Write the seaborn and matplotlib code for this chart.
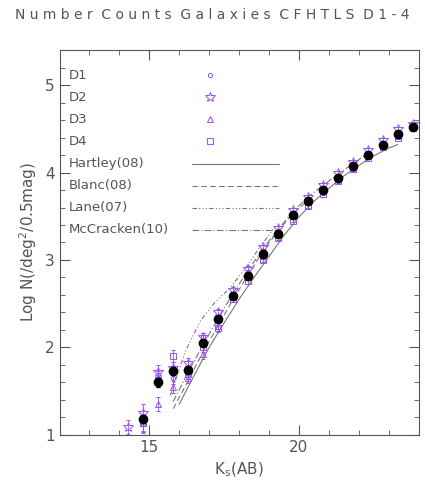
import numpy as np
import matplotlib
matplotlib.use("Agg")
import matplotlib.pyplot as plt
import seaborn as sns

sns.set_style("ticks")
plt.rcParams['font.family'] = ['DejaVu Sans']

mag = np.arange(14.8, 23.81, 0.5)
mean = [1.18, 1.60, 1.73, 1.74, 2.05, 2.32, 2.59, 2.82, 3.07, 3.30, 3.51, 3.67,
        3.80, 3.94, 4.07, 4.20, 4.31, 4.44, 4.52]
mean_err = [0.04, 0.05, 0.05, 0.04, 0.04, 0.03, 0.03, 0.02, 0.02, 0.02, 0.02, 0.02,
            0.02, 0.02, 0.02, 0.02, 0.02, 0.02, 0.02]
d1 = [1.12, 1.65, 1.65, 1.78, 2.12, 2.30, 2.60, 2.85, 3.10, 3.32, 3.52, 3.68,
      3.81, 3.95, 4.08, 4.21, 4.33, 4.45, 4.53]
d2 = [1.25, 1.72, 1.76, 1.82, 2.12, 2.40, 2.66, 2.90, 3.15, 3.37, 3.57, 3.72,
      3.86, 4.00, 4.12, 4.26, 4.37, 4.50, 4.55]
d3 = [1.14, 1.35, 1.55, 1.65, 1.92, 2.25, 2.58, 2.80, 3.05, 3.28, 3.50, 3.66,
      3.79, 3.93, 4.05, 4.19, 4.31, 4.42, 4.53]
d4 = [1.13, 1.63, 1.90, 1.70, 2.00, 2.22, 2.55, 2.76, 3.00, 3.25, 3.45, 3.62,
      3.76, 3.90, 4.04, 4.17, 4.29, 4.40, 4.51]
d_err = [0.10, 0.08, 0.07, 0.06, 0.05, 0.04, 0.03, 0.03, 0.02, 0.02, 0.02, 0.02,
         0.02, 0.02, 0.02, 0.02, 0.02, 0.02, 0.02]
star_extra_x, star_extra_y = [14.3], [1.09]

hart_x = [16.0, 16.5, 17.0, 17.5, 18.0, 18.5, 19.0, 19.5, 20.0, 20.5, 21.0, 21.5, 22.0, 22.5, 23.0, 23.3]
hart_y = [1.35, 1.68, 2.00, 2.28, 2.55, 2.80, 3.04, 3.28, 3.49, 3.67, 3.82, 3.96, 4.08, 4.19, 4.28, 4.32]
blanc_x = [15.8, 16.3, 16.8, 17.3, 17.8, 18.3, 18.8, 19.3, 19.8, 20.3]
blanc_y = [1.30, 1.62, 1.95, 2.25, 2.55, 2.83, 3.10, 3.33, 3.53, 3.68]
lane_x = [15.7, 16.2, 16.7, 17.2, 17.7, 18.2, 18.7, 19.2]
lane_y = [1.45, 1.95, 2.30, 2.52, 2.68, 2.90, 3.15, 3.38]
mcc_x = [15.8, 16.3, 16.8, 17.3, 17.8, 18.3, 18.8, 19.3, 19.8, 20.3, 20.8, 21.3, 21.8, 22.3]
mcc_y = [1.38, 1.72, 2.03, 2.33, 2.62, 2.88, 3.13, 3.35, 3.55, 3.72, 3.85, 3.98, 4.10, 4.22]

purple = "#9b4dff"
grey = "#555555"
lgrey = "#777777"

fig, ax = plt.subplots(figsize=(4.25, 5.01), dpi=100)
fig.subplots_adjust(left=0.14, right=0.985, top=0.90, bottom=0.132)

kw = dict(color=purple, mfc="none", ls="none", elinewidth=0.6, capsize=1.5, mew=0.7)
ax.errorbar(mag, d1, yerr=d_err, marker="o", ms=3, **kw)
ax.errorbar(list(mag) + star_extra_x, d2 + star_extra_y, yerr=d_err + [0.08], marker="*", ms=7, **kw)
ax.errorbar(mag, d3, yerr=d_err, marker="^", ms=5, **kw)
ax.errorbar(mag, d4, yerr=d_err, marker="s", ms=5, **kw)

styles = ["-", (0, (5, 3)), (0, (4, 2, 1, 2, 1, 2, 1, 2)), (0, (6, 2, 1, 2))]
sns.lineplot(x=hart_x, y=hart_y, color=lgrey, lw=0.8, ls=styles[0], ax=ax)
sns.lineplot(x=blanc_x, y=blanc_y, color=lgrey, lw=0.8, ls=styles[1], ax=ax)
sns.lineplot(x=lane_x, y=lane_y, color=lgrey, lw=0.8, ls=styles[2], ax=ax)
sns.lineplot(x=mcc_x, y=mcc_y, color=lgrey, lw=0.8, ls=styles[3], ax=ax)

ax.errorbar(mag, mean, yerr=mean_err, color="black", marker="o", ms=6, ls="none",
            elinewidth=0.8, capsize=1.5, zorder=5)

# legend drawn by hand: labels left, symbols right
tr = ax.transAxes
names = ["D1", "D2", "D3", "D4", "Hartley(08)", "Blanc(08)", "Lane(07)", "McCracken(10)"]
markers = [("o", 3), ("*", 7), ("^", 5), ("s", 5)]
for i, name in enumerate(names):
    yy = 0.935 - i * 0.0575
    ax.text(0.025, yy, name, transform=tr, color=grey, fontsize=9.5, va="center")
    if i < 4:
        ax.plot([0.42], [yy], transform=tr, marker=markers[i][0], ms=markers[i][1],
                mfc="none", color=purple, mew=0.7, ls="none")
    else:
        ax.plot([0.37, 0.61], [yy, yy], transform=tr, color=lgrey, lw=0.8, ls=styles[i - 4])

ax.set_xlim(12, 24)
ax.set_ylim(1, 5.4)
ax.set_xticks([15, 20])
ax.set_yticks([1, 2, 3, 4, 5])
ax.set_xticks(np.arange(12, 24.1, 1), minor=True)
ax.set_yticks(np.arange(1, 5.41, 0.2), minor=True)
ax.tick_params(direction="in", which="both", top=True, right=True, colors=grey,
               labelcolor=grey, labelsize=11)
ax.tick_params(which="major", length=7)
ax.tick_params(which="minor", length=3.5)
for s in ax.spines.values():
    s.set_color(grey)
ax.set_xlabel(r"K$_\mathrm{s}$(AB)", color=grey, fontsize=11)
ax.set_ylabel(r"Log N(/deg$^2$/0.5mag)", color=grey, fontsize=11)
fig.suptitle("N u m b e r  C o u n t s  G a l a x i e s  C F H T L S  D 1 - 4",
             color=grey, fontsize=10, y=0.985)
fig.savefig("out.png", dpi=100)
